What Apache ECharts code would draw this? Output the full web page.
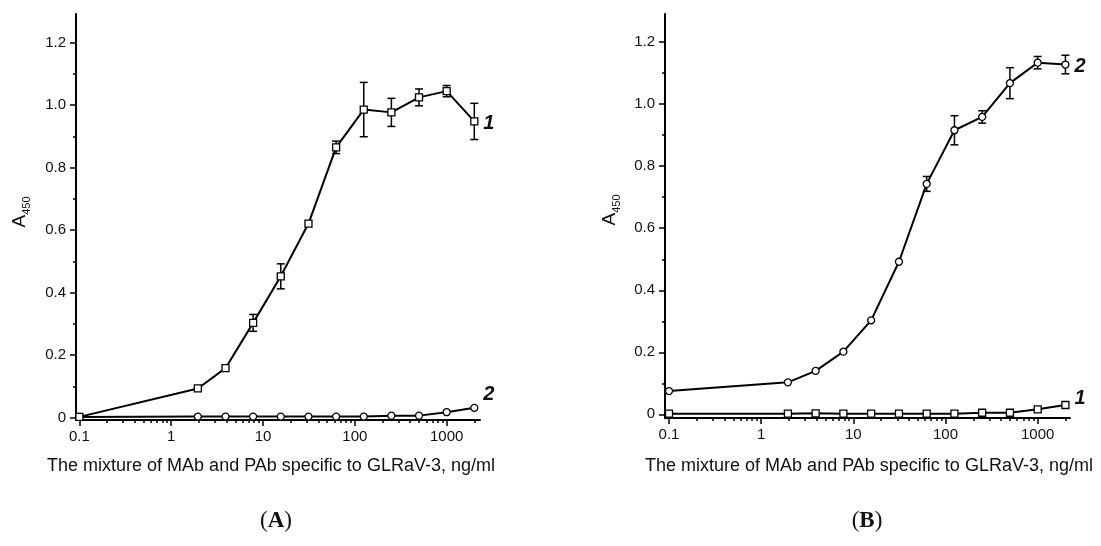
<!DOCTYPE html>
<html>
<head>
<meta charset="utf-8">
<script src="https://cdn.jsdelivr.net/npm/echarts@6/dist/echarts.min.js"></script>
<style>
  html, body { margin: 0; padding: 0; background: #fff; }
  #chart { width: 1101px; height: 546px; }
</style>
</head>
<body>
<div id="chart"></div>
<script>
// concentration of the antibody mixture, ng/ml (0.1 = point without antibody)
const conc = [0.1, 1.95, 3.9, 7.8, 15.6, 31.25, 62.5, 125, 250, 500, 1000, 2000];

// panel A
const aCurve1 = [0.002, 0.093, 0.158, 0.303, 0.452, 0.621, 0.865, 0.986, 0.977, 1.025, 1.045, 0.948];
const aCurve1Err = [0, 0, 0, 0.027, 0.04, 0, 0.02, 0.087, 0.045, 0.027, 0.018, 0.058];
const aCurve2 = [0.002, 0.003, 0.003, 0.003, 0.003, 0.003, 0.003, 0.003, 0.006, 0.006, 0.017, 0.031];

// panel B
const bCurve2 = [0.075, 0.103, 0.14, 0.202, 0.303, 0.492, 0.743, 0.916, 0.959, 1.068, 1.134, 1.128];
const bCurve2Err = [0, 0, 0, 0, 0, 0, 0.024, 0.047, 0.02, 0.05, 0.02, 0.03];
const bCurve1 = [0.002, 0.002, 0.003, 0.002, 0.002, 0.002, 0.002, 0.002, 0.005, 0.005, 0.016, 0.03];

// ticks
const xMajor = [0.1, 1, 10, 100, 1000];
const yMajor = [0, 0.2, 0.4, 0.6, 0.8, 1.0, 1.2];
const yMinor = [0.1, 0.3, 0.5, 0.7, 0.9, 1.1];
const xMinor = [];
xMajor.forEach(d => {
  for (let k = 2; k <= 9; k++) {
    if (d * k < 2300) xMinor.push(+(d * k).toPrecision(3));
  }
});

const xTitle = 'The mixture of MAb and PAb specific to GLRaV-3, ng/ml';
const FONT = '"Liberation Sans", Arial, sans-serif';
const SERIF = '"Liberation Serif", "Times New Roman", serif';
const BLACK = '#000';

const tickStyle = { color: BLACK, width: 1.5 };

function makeXAxes(gridIndex, min, max) {
  return [{
    type: 'log', gridIndex, min, max, position: 'bottom',
    axisLine: { onZero: false, lineStyle: { color: BLACK, width: 2 } },
    axisTick: { customValues: xMajor, length: 6, lineStyle: tickStyle },
    axisLabel: {
      customValues: xMajor, margin: 9, fontSize: 15, color: '#111', fontFamily: FONT,
      formatter: v => String(+Number(v).toPrecision(3)),
    },
    splitLine: { show: false },
  }, {
    type: 'log', gridIndex, min, max, position: 'bottom',
    axisLine: { show: false, onZero: false },
    axisTick: { customValues: xMinor, length: 3, lineStyle: tickStyle },
    axisLabel: { show: false },
    splitLine: { show: false },
  }];
}

function makeYAxes(gridIndex, min, max) {
  return [{
    type: 'value', gridIndex, min, max, position: 'left',
    axisLine: { show: true, onZero: false, lineStyle: { color: BLACK, width: 2 } },
    axisTick: { show: true, customValues: yMajor, length: 6, lineStyle: tickStyle },
    axisLabel: {
      customValues: yMajor, margin: 10, fontSize: 15, color: '#111', fontFamily: FONT,
      formatter: v => (v === 0 ? '0' : Number(v).toFixed(1)),
    },
    splitLine: { show: false },
  }, {
    type: 'value', gridIndex, min, max, position: 'left',
    axisLine: { show: false, onZero: false },
    axisTick: { show: true, customValues: yMinor, length: 3, lineStyle: tickStyle },
    axisLabel: { show: false },
    splitLine: { show: false },
  }];
}

// error bars through the axis scales
function errorBarItem(params, api) {
  const x = api.value(0);
  const top = api.coord([x, api.value(2)]);
  const bot = api.coord([x, api.value(1)]);
  const half = 4;
  const style = { stroke: BLACK, lineWidth: 1.5 };
  return {
    type: 'group',
    children: [
      { type: 'line', shape: { x1: top[0], y1: top[1], x2: bot[0], y2: bot[1] }, style },
      { type: 'line', shape: { x1: top[0] - half, y1: top[1], x2: top[0] + half, y2: top[1] }, style },
      { type: 'line', shape: { x1: bot[0] - half, y1: bot[1], x2: bot[0] + half, y2: bot[1] }, style },
    ],
  };
}

function errSeries(axisIndex, values, errs) {
  const data = [];
  conc.forEach((x, i) => {
    if (errs[i] > 0) data.push([x, values[i] - errs[i], values[i] + errs[i]]);
  });
  return {
    type: 'custom', xAxisIndex: axisIndex, yAxisIndex: axisIndex, z: 1,
    renderItem: errorBarItem, encode: { x: 0, y: [1, 2] }, data, silent: true,
  };
}

function curve(axisIndex, values, symbol, label, offset) {
  return {
    type: 'line', xAxisIndex: axisIndex, yAxisIndex: axisIndex, z: 3,
    data: conc.map((x, i) => [x, values[i]]),
    symbol, symbolSize: 7, showAllSymbol: true,
    lineStyle: { color: BLACK, width: 2 },
    itemStyle: { color: '#fff', borderColor: BLACK, borderWidth: 1.3 },
    endLabel: {
      show: true, formatter: label, distance: 9, offset,
      fontSize: 20, fontWeight: 'bold', fontStyle: 'italic', color: '#111', fontFamily: FONT,
    },
  };
}

function yTitle(x, y) {
  return {
    type: 'text', x, y, rotation: Math.PI / 2,
    style: {
      text: '{a|A}{s|450}',
      align: 'center', verticalAlign: 'middle',
      fill: '#111', fontFamily: FONT,
      rich: {
        a: { fontSize: 19, lineHeight: 24, verticalAlign: 'middle', fontFamily: FONT, fill: '#111' },
        s: { fontSize: 11, lineHeight: 24, verticalAlign: 'bottom', fontFamily: FONT, fill: '#111' },
      },
    },
  };
}

function xTitleText(x, y) {
  return {
    type: 'text', x, y,
    style: { text: xTitle, align: 'center', verticalAlign: 'middle', fontSize: 18, fontFamily: FONT, fill: '#111' },
  };
}

function panelTag(x, y, letter) {
  return {
    type: 'text', x, y,
    style: {
      text: '{p|(}{l|' + letter + '}{p|)}',
      align: 'center', verticalAlign: 'middle',
      rich: {
        p: { fontSize: 23, fontFamily: SERIF, fill: '#111' },
        l: { fontSize: 23, fontWeight: 'bold', fontFamily: SERIF, fill: '#111' },
      },
    },
  };
}

const chart = echarts.init(document.getElementById('chart'));
chart.setOption({
  animation: false,
  backgroundColor: '#fff',
  grid: [
    { left: 76, top: 14, width: 404, height: 406 },
    { left: 665, top: 14, width: 405, height: 404 },
  ],
  xAxis: [...makeXAxes(0, 0.0918, 2307), ...makeXAxes(1, 0.0905, 2242)],
  yAxis: [...makeYAxes(0, -0.008, 1.292), ...makeYAxes(1, -0.012, 1.291)],
  series: [
    errSeries(0, aCurve1, aCurve1Err),
    curve(0, aCurve2, 'circle', '2', [0, -13]),
    curve(0, aCurve1, 'rect', '1', [0, 2]),
    errSeries(2, bCurve2, bCurve2Err),
    curve(2, bCurve1, 'rect', '1', [0, -6]),
    curve(2, bCurve2, 'circle', '2', [0, 2]),
  ],
  graphic: [
    yTitle(20, 212),
    yTitle(610, 210),
    xTitleText(271, 466),
    xTitleText(869, 466),
    panelTag(276, 521, 'A'),
    panelTag(867, 521, 'B'),
  ],
});
</script>
</body>
</html>
